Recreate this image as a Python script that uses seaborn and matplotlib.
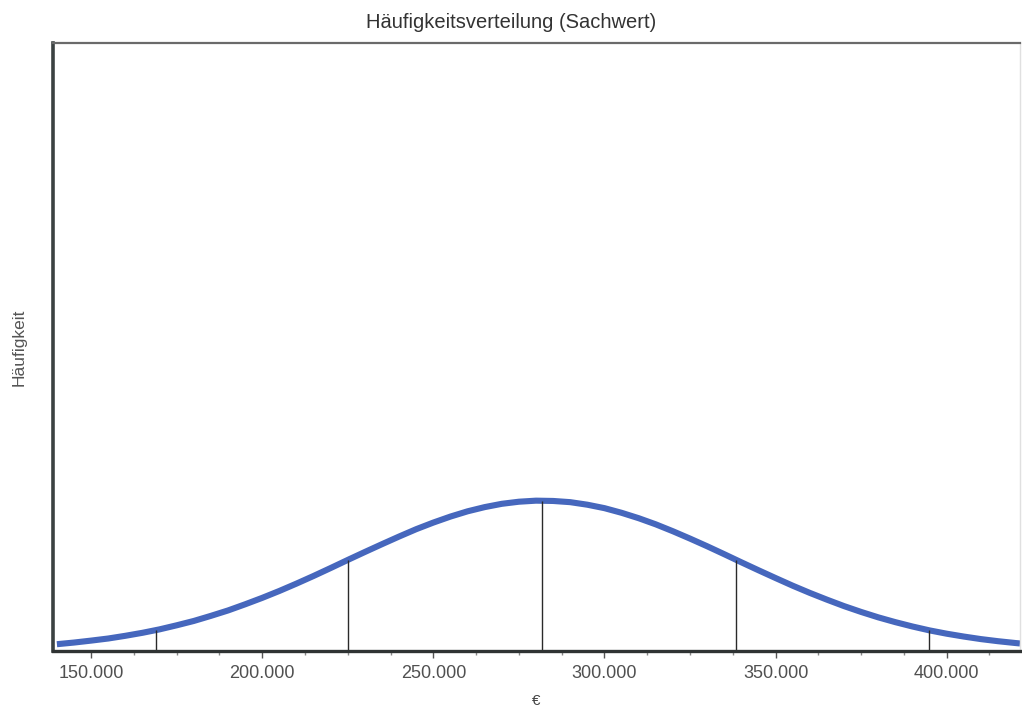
import matplotlib
matplotlib.use('Agg')
import matplotlib.pyplot as plt
import matplotlib.ticker as mticker
import numpy as np
import pandas as pd
import seaborn as sns

# curve (x in EUR, height relative to the peak)
sachwert = [140000, 145000, 150000, 155000, 160000, 165000, 170000, 175000,
            180000, 185000, 190000, 195000, 200000, 205000, 210000, 215000,
            220000, 225000, 230000, 235000, 240000, 245000, 250000, 255000,
            260000, 265000, 270000, 275000, 280000, 285000, 290000, 295000,
            300000, 305000, 310000, 315000, 320000, 325000, 330000, 335000,
            340000, 345000, 350000, 355000, 360000, 365000, 370000, 375000,
            380000, 385000, 390000, 395000, 400000, 405000, 410000, 415000,
            420000, 421400]
haeufigkeit = [0.043, 0.054, 0.067, 0.081, 0.099, 0.119, 0.142, 0.169,
               0.198, 0.232, 0.268, 0.309, 0.352, 0.398, 0.447, 0.498,
               0.551, 0.605, 0.658, 0.710, 0.761, 0.810, 0.854, 0.894,
               0.929, 0.957, 0.979, 0.993, 1.000, 0.998, 0.990, 0.973,
               0.950, 0.919, 0.883, 0.842, 0.796, 0.747, 0.696, 0.643,
               0.589, 0.536, 0.484, 0.433, 0.385, 0.340, 0.297, 0.258,
               0.222, 0.190, 0.161, 0.135, 0.113, 0.094, 0.077, 0.063,
               0.051, 0.048]

# marker lines (mean, +-1 sd, +-2 sd) and their heights at the curve
marker_x = [168900, 225200, 281800, 338300, 394900]
marker_h = [0.135, 0.607, 1.000, 0.607, 0.135]

xticks = [150000, 200000, 250000, 300000, 350000, 400000]

df = pd.DataFrame({'Sachwert': sachwert, 'Haeufigkeit': haeufigkeit})

sns.set_style('white')
plt.rcParams['font.family'] = ['Liberation Sans', 'DejaVu Sans']

fig = plt.figure(figsize=(10.22, 7.08), dpi=100)
ax = fig.add_axes([0.052, 0.081, 0.946, 0.858])

sns.lineplot(data=df, x='Sachwert', y='Haeufigkeit', ax=ax,
             color='#4667bd', linewidth=4.4, solid_capstyle='butt')
ax.vlines(marker_x, 0, marker_h, colors='#2a2a2a', linewidth=1.0)

ax.set_xlim(138900, 421400)
ax.set_ylim(0, 4.05)

ax.set_xticks(xticks)
ax.xaxis.set_minor_locator(mticker.MultipleLocator(12500))
ax.xaxis.set_major_formatter(
    mticker.FuncFormatter(lambda v, p: f'{v:,.0f}'.replace(',', '.')))
ax.set_yticks([])
ax.tick_params(axis='x', which='major', direction='out', length=5, width=1,
               color='#555555', labelsize=13, labelcolor='#505050', pad=5)
ax.tick_params(axis='x', which='minor', direction='out', length=3, width=1,
               color='#888888')
ax.xaxis.set_ticks_position('bottom')

ax.spines['left'].set_color('#3b4242')
ax.spines['left'].set_linewidth(2.6)
ax.spines['bottom'].set_color('#2f3333')
ax.spines['bottom'].set_linewidth(2.4)
ax.spines['top'].set_color('#6a6a6a')
ax.spines['top'].set_linewidth(1.6)
ax.spines['right'].set_color('#e0e0e0')
ax.spines['right'].set_linewidth(1.0)

# title is centred on the figure, not on the axes
ax.set_title('Häufigkeitsverteilung (Sachwert)', fontsize=14.5, color='#333333',
             x=0.474, pad=11)
ax.set_xlabel('€', fontsize=11, color='#444444', labelpad=9)
ax.set_ylabel('Häufigkeit', fontsize=12.5, color='#555555', labelpad=19)

fig.savefig('out.png', dpi=100)
